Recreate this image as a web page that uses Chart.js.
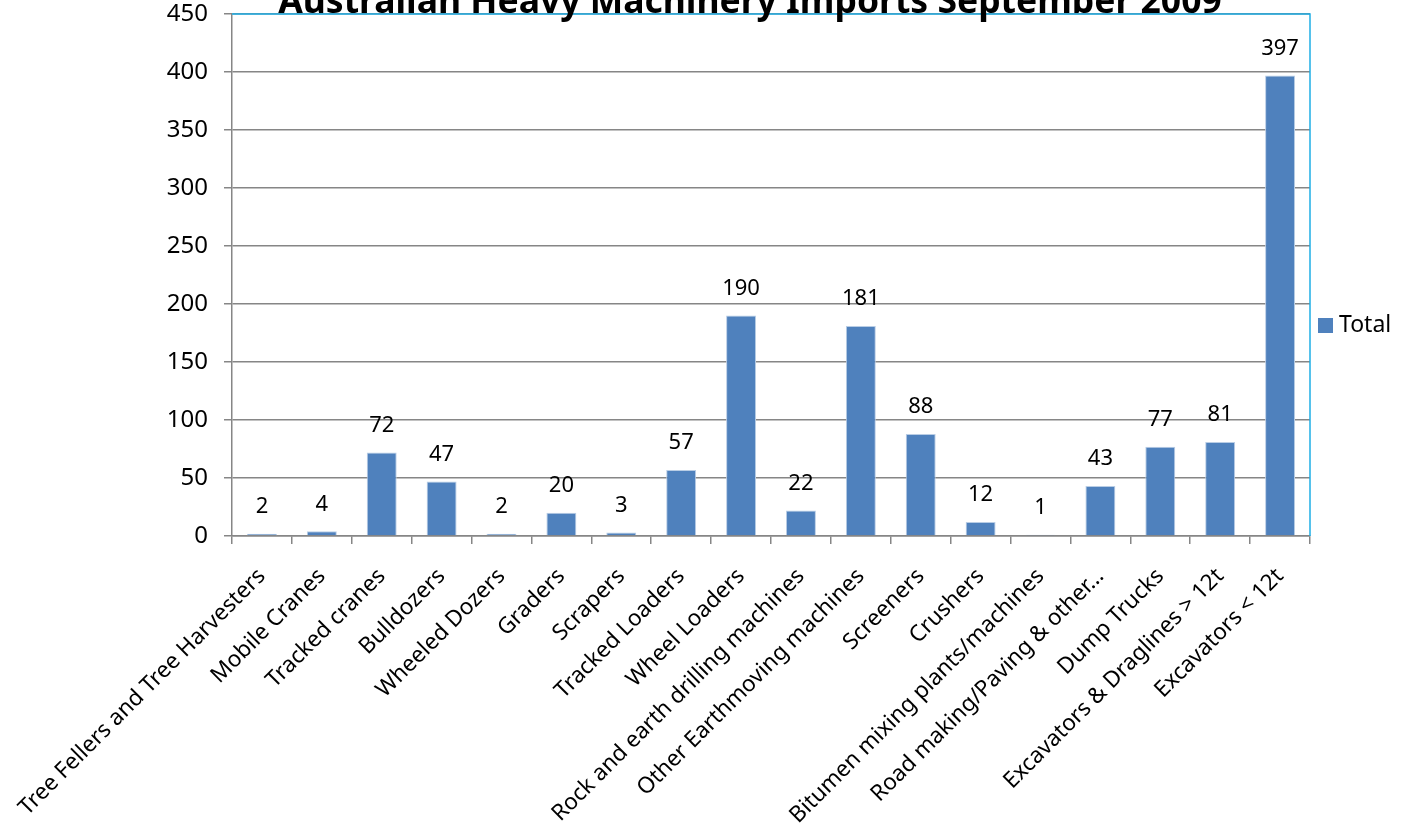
<!DOCTYPE html>
<html>
<head>
<meta charset="utf-8">
<script src="https://cdn.jsdelivr.net/npm/chart.js@4"></script>
<style>
  body { margin: 0; background: #fff; }
  #wrap { width: 1406px; height: 833px; }
</style>
</head>
<body>
<div id="wrap"><canvas id="grafico" width="1406" height="833"></canvas></div>
<script>
const categorias = [
  "Tree Fellers and Tree Harvesters", "Mobile Cranes", "Tracked cranes", "Bulldozers",
  "Wheeled Dozers", "Graders", "Scrapers", "Tracked Loaders", "Wheel Loaders",
  "Rock and earth drilling machines", "Other Earthmoving machines", "Screeners",
  "Crushers", "Bitumen mixing plants/machines", "Road making/Paving & other…",
  "Dump Trucks", "Excavators & Draglines > 12t", "Excavators < 12t"
];
const totais = [2, 4, 72, 47, 2, 20, 3, 57, 190, 22, 181, 88, 12, 1, 43, 77, 81, 397];
const titulo = "Australian Heavy Machinery Imports September 2009";
const serieNome = "Total";

const fonte = "'Noto Sans', sans-serif";
const azul = "#4F81BD";

// rotulos de valor, titulo, legenda e borda azul da area
const extras = {
  id: "extras",
  afterDatasetsDraw(chart) {
    const c = chart.ctx;
    const meta = chart.getDatasetMeta(0);
    c.save();
    c.fillStyle = "#000";
    c.font = "22px " + fonte;
    c.textAlign = "center";
    c.textBaseline = "middle";
    meta.data.forEach((bar, i) => {
      c.fillText(String(totais[i]), bar.x, bar.y - 27);
    });
    const a = chart.chartArea;
    c.strokeStyle = "#1FAEE6";
    c.lineWidth = 1.5;
    c.beginPath();
    c.moveTo(a.left, a.top);
    c.lineTo(a.right, a.top);
    c.lineTo(a.right, a.bottom);
    c.stroke();
    c.restore();
  },
  afterDraw(chart) {
    const c = chart.ctx;
    const a = chart.chartArea;
    c.save();
    c.fillStyle = "#000";
    c.font = "bold 35.5px " + fonte;
    c.textAlign = "center";
    c.textBaseline = "alphabetic";
    c.fillText(titulo, 750, 13);
    // legenda
    const ly = 325.5;
    c.fillStyle = azul;
    c.fillRect(a.right + 8, ly - 7.5, 15, 15);
    c.fillStyle = "#000";
    c.font = "23px " + fonte;
    c.textAlign = "left";
    c.textBaseline = "middle";
    c.fillText(serieNome, a.right + 29, ly);
    c.restore();
  }
};

new Chart(document.getElementById("grafico"), {
  type: "bar",
  data: {
    labels: categorias,
    datasets: [{
      label: serieNome,
      data: totais,
      backgroundColor: azul,
      borderColor: "#B9CDE5",
      borderWidth: 1,
      categoryPercentage: 1,
      barPercentage: 0.5
    }]
  },
  options: {
    responsive: false,
    animation: false,
    layout: { padding: { top: 14, right: 96, left: 0, bottom: 0 } },
    plugins: {
      title: { display: false },
      tooltip: { enabled: false },
      legend: { display: false }
    },
    scales: {
      x: {
        ticks: {
          color: "#000",
          font: { family: fonte, size: 22.5 },
          maxRotation: 45,
          minRotation: 45,
          autoSkip: false,
          padding: 19
        },
        grid: { drawOnChartArea: false, drawTicks: true, tickLength: 8, color: "#868686", lineWidth: 1.5 },
        border: { color: "#868686", width: 1.5 },
        afterFit(scale) {
          scale.height = 297;
          scale.paddingLeft = 0;
          scale.paddingRight = 0;
        }
      },
      y: {
        min: 0,
        max: 450,
        ticks: {
          stepSize: 50,
          color: "#000",
          font: { family: fonte, size: 24 },
          padding: 16
        },
        grid: { color: "#868686", lineWidth: 1.5, tickLength: 8 },
        border: { color: "#868686", width: 1.5 },
        afterFit(scale) {
          scale.width = 232;
          scale.paddingTop = 0;
          scale.paddingBottom = 0;
        }
      }
    }
  },
  plugins: [extras]
});
</script>
</body>
</html>
